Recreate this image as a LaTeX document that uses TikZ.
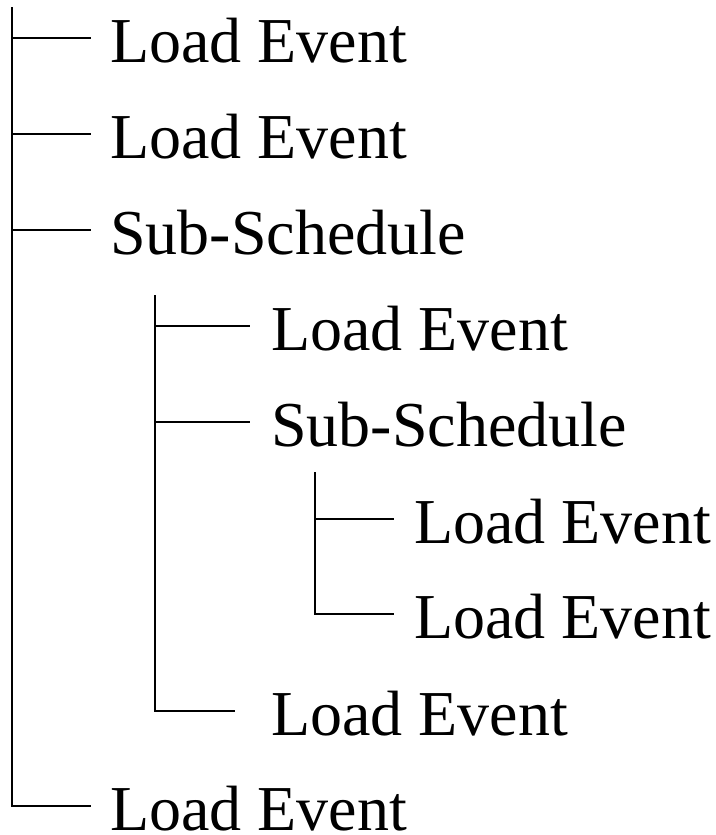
\documentclass[tikz,border=0pt]{standalone}
\usepackage{fontspec}
\setmainfont{Liberation Serif}
\begin{document}
\begin{tikzpicture}[x=1pt,y=-1pt,
  conn/.style={line width=1.6pt, line cap=butt},
  lbl/.style={inner sep=0pt, anchor=base west, font=\fontsize{64}{64}\selectfont}]
\useasboundingbox (0,0) rectangle (715,835);
% labels (baselines = branch y + 24)
\node[lbl] (a1) at (110,62)  {Load Event};
\node[lbl] (a2) at (110,158) {Load Event};
\node[lbl] (a3) at (110,254) {Sub-Schedule};
\node[lbl] (b1) at (271,350) {Load Event};
\node[lbl] (b2) at (271,446) {Sub-Schedule};
\node[lbl] (c1) at (414,543) {Load Event};
\node[lbl] (c2) at (414,638) {Load Event};
\node[lbl] (b3) at (271,735) {Load Event};
\node[lbl] (a4) at (110,830) {Load Event};
% trunk tops and branch ends
\coordinate (ta) at (12,7);
\coordinate (tb) at (155,295);
\coordinate (tc) at (315,472);
\coordinate (ea1) at (91,38);
\coordinate (ea2) at (91,134);
\coordinate (ea3) at (91,230);
\coordinate (ea4) at (91,806);
\coordinate (eb1) at (250,326);
\coordinate (eb2) at (250,422);
\coordinate (eb3) at (235,711);
\coordinate (ec1) at (394,519);
\coordinate (ec2) at (394,614);
% level 1
\draw[conn] (ta) -- (ta |- ea4) -- (ea4);
\draw[conn] (ta |- ea1) -- (ea1);
\draw[conn] (ta |- ea2) -- (ea2);
\draw[conn] (ta |- ea3) -- (ea3);
% level 2
\draw[conn] (tb) -- (tb |- eb3) -- (eb3);
\draw[conn] (tb |- eb1) -- (eb1);
\draw[conn] (tb |- eb2) -- (eb2);
% level 3
\draw[conn] (tc) -- (tc |- ec2) -- (ec2);
\draw[conn] (tc |- ec1) -- (ec1);
\end{tikzpicture}
\end{document}
